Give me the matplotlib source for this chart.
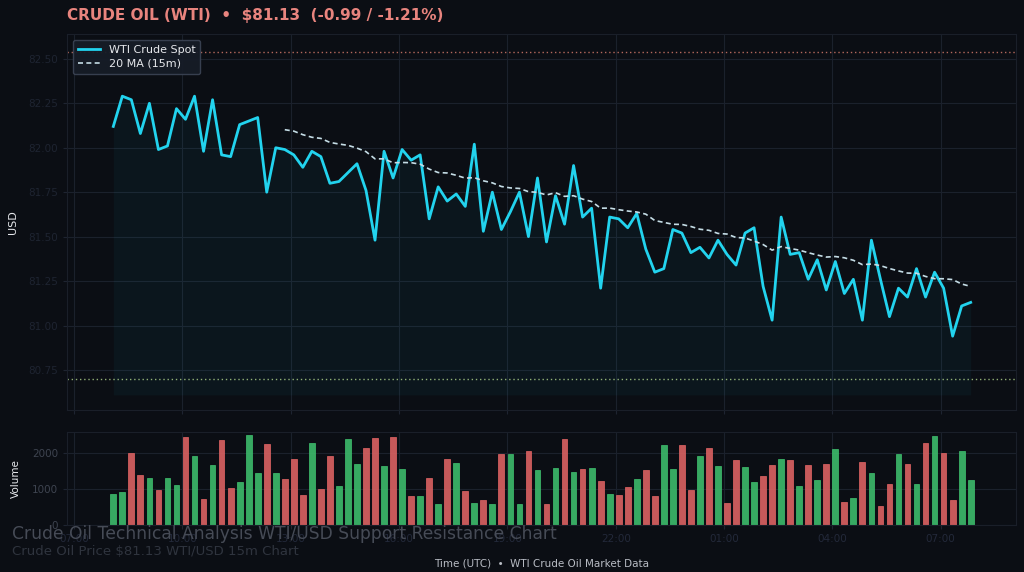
import pandas as pd
import matplotlib.pyplot as plt
import matplotlib.dates as mdates
import numpy as np

# WTI 15m prices
price = [82.12, 82.29, 82.27, 82.08, 82.25, 81.99, 82.01, 82.22, 82.16, 82.29,
         81.98, 82.27, 81.96, 81.95, 82.13, 82.15, 82.17, 81.75, 82.00, 81.99,
         81.96, 81.89, 81.98, 81.95, 81.80, 81.81, 81.86, 81.91, 81.76, 81.48,
         81.98, 81.83, 81.99, 81.93, 81.96, 81.60, 81.78, 81.70, 81.74, 81.67,
         82.02, 81.53, 81.75, 81.54, 81.64, 81.75, 81.50, 81.83, 81.47, 81.73,
         81.57, 81.90, 81.61, 81.66, 81.21, 81.61, 81.60, 81.55, 81.63, 81.43,
         81.30, 81.32, 81.54, 81.52, 81.41, 81.44, 81.38, 81.48, 81.40, 81.34,
         81.52, 81.55, 81.22, 81.03, 81.61, 81.40, 81.41, 81.26, 81.37, 81.20,
         81.36, 81.18, 81.26, 81.03, 81.48, 81.26, 81.05, 81.21, 81.16, 81.32,
         81.16, 81.30, 81.21, 80.94, 81.11, 81.13]
volume = [860, 920, 2000, 1390, 1320, 980, 1310, 1110, 2460, 1930,
          740, 1670, 2380, 1030, 1190, 2500, 1450, 2270, 1450, 1290,
          1840, 840, 2300, 1000, 1930, 1090, 2390, 1700, 2140, 2440,
          1650, 2470, 1570, 800, 820, 1310, 600, 1830, 1730, 950,
          630, 710, 600, 1990, 1990, 590, 2070, 1550, 600, 1590,
          2400, 1480, 1560, 1590, 1240, 870, 840, 1070, 1290, 1550,
          820, 2230, 1570, 2220, 980, 1940, 2160, 1650, 630, 1810,
          1610, 1190, 1370, 1670, 1830, 1820, 1080, 1670, 1260, 1710,
          2110, 640, 760, 1770, 1440, 540, 1140, 1980, 1690, 1140,
          2300, 2490, 2010, 690, 2070, 1270]
resistance = 82.54
support = 80.70
fill_floor = 80.61

times = pd.date_range('2024-05-01 08:05', periods=len(price), freq='15min')
df = pd.DataFrame({'price': price, 'volume': volume}, index=times)
df['ma'] = df['price'].rolling(20).mean()
up = df['price'].diff().fillna(1) >= 0

bg = '#0b0e14'
grid_c = '#1b212c'
plt.rcParams['font.family'] = ['DejaVu Sans']

fig = plt.figure(figsize=(10.24, 5.72), dpi=100, facecolor=bg)
ax = fig.add_axes([0.0654, 0.283, 0.9266, 0.6576], facecolor=bg)
axv = fig.add_axes([0.0654, 0.082, 0.9266, 0.163], facecolor=bg, sharex=ax)

ax.fill_between(df.index, df['price'], fill_floor, color='#22d3ee', alpha=0.045, lw=0)
ax.plot(df.index, df['price'], color='#22d3ee', lw=2, label='WTI Crude Spot')
ax.plot(df.index, df['ma'], color='#c5dde6', lw=1.2, ls=(0, (3, 2)), label='20 MA (15m)')
ax.axhline(resistance, color='#e0806f', lw=1, ls=(0, (1, 2)), alpha=0.8)
ax.axhline(support, color='#b5d98f', lw=1, ls=(0, (1, 2)), alpha=0.8)

ax.set_ylim(80.524, 82.64)
ax.set_xlim(pd.Timestamp('2024-05-01 06:48'), pd.Timestamp('2024-05-02 09:05'))
ax.set_yticks([80.75, 81.00, 81.25, 81.50, 81.75, 82.00, 82.25, 82.50])
ax.yaxis.set_major_formatter(plt.FormatStrFormatter('%.2f'))
ax.set_ylabel('USD', color='#e6e8ec', fontsize=8)
ax.yaxis.set_label_coords(-0.052, 0.5)

cols = np.where(up, '#3dbb6b', '#dc6262')
axv.bar(df.index, df['volume'], width=0.64 / 96, color=cols, edgecolor=cols, lw=0.6, alpha=0.9)
axv.set_ylim(0, 2600)
axv.set_yticks([0, 1000, 2000])
axv.set_ylabel('Volume', color='#e6e8ec', fontsize=7.5)
axv.yaxis.set_label_coords(-0.049, 0.5)
axv.xaxis.set_major_locator(mdates.HourLocator(byhour=[1, 4, 7, 10, 13, 16, 19, 22]))
axv.xaxis.set_major_formatter(mdates.DateFormatter('%H:%M'))
axv.set_xlabel('Time (UTC)  •  WTI Crude Oil Market Data', color='#b8bcc4', fontsize=7.5, labelpad=10)

for a in (ax, axv):
    a.grid(True, color=grid_c, lw=0.8)
    a.set_axisbelow(True)
    for s in a.spines.values():
        s.set_color('#1a1f29')
    a.tick_params(colors='#1e2431', labelsize=7.5, length=3)
ax.tick_params(labelbottom=False)
axv.tick_params(axis='y', labelcolor='#3e4450')
axv.tick_params(axis='x', labelcolor='#23293a')

leg = ax.legend(loc='upper left', fontsize=8, facecolor='#161c27', edgecolor='#3a4252',
                framealpha=0.95, handlelength=2.0, borderpad=0.45, labelspacing=0.4)
for t in leg.get_texts():
    t.set_color('#e6e8ec')

fig.text(0.0654, 0.973, 'CRUDE OIL (WTI)  •  $81.13  (-0.99 / -1.21%)', color='#e8847e',
         fontsize=11, fontweight='bold', va='center', ha='left')
fig.text(0.012, 0.066, 'Crude Oil Technical Analysis WTI/USD Support Resistance Chart',
         color='#464b56', fontsize=12.3, va='center', ha='left')
fig.text(0.012, 0.035, 'Crude Oil Price $81.13 WTI/USD 15m Chart',
         color='#2f343e', fontsize=9.5, va='center', ha='left')

fig.savefig('out.png', dpi=100, facecolor=bg)
